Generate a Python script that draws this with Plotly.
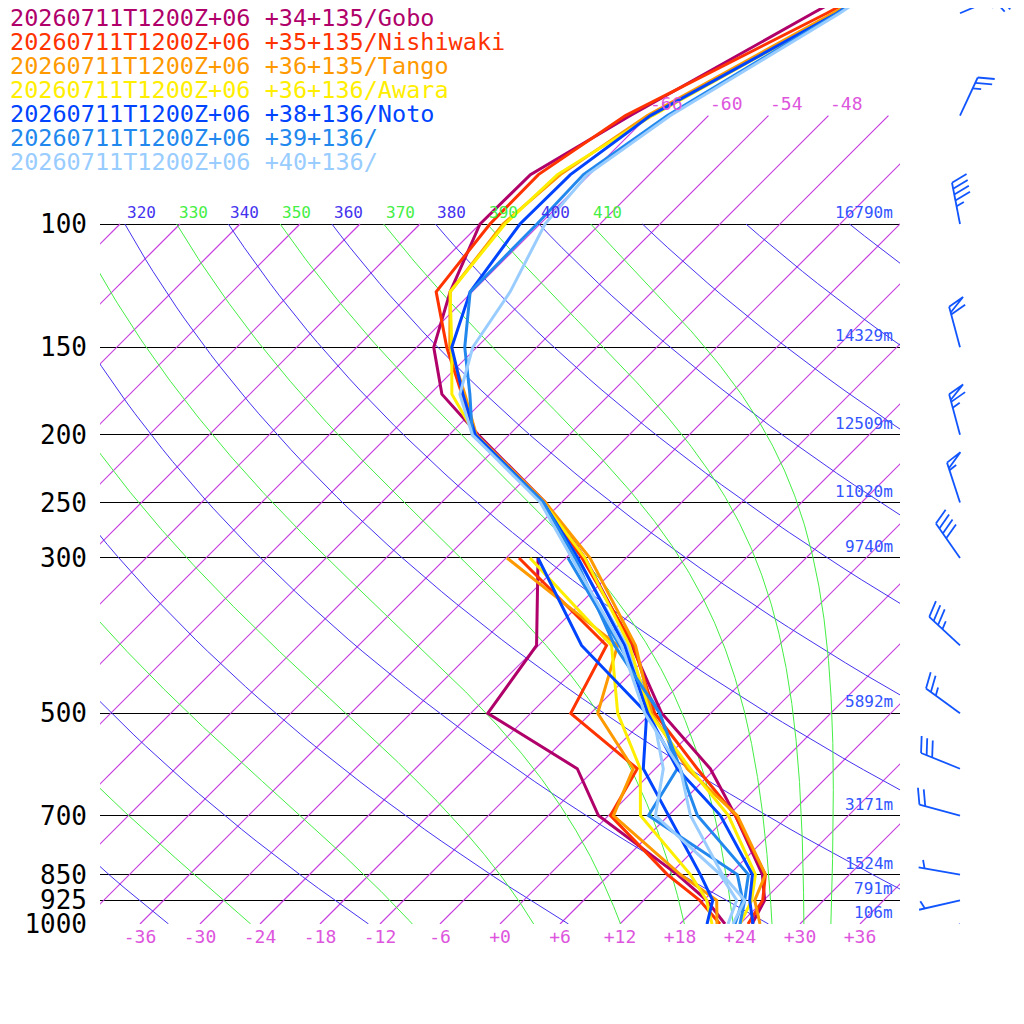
import numpy as np
import plotly.graph_objects as go

# --- sounding data ---
t_levels = [1000, 925, 850, 700, 600, 500, 400, 300, 250, 200, 175, 150, 125, 100, 85, 70, 50, 48]
td_levels = [1000, 925, 850, 700, 600, 500, 400, 300]

names = ["+34+135/Gobo", "+35+135/Nishiwaki", "+36+135/Tango", "+36+136/Awara",
         "+38+136/Noto", "+39+136/", "+40+136/"]
colors = ["#b0006a", "#ff3300", "#ff9900", "#ffee00", "#0044ff", "#2288ee", "#99ccff"]

temp_gobo = [25.2, 24.1, 21.3, 12.7, 5.5, -4.9, -14.7, -28.1, -37.6, -51.1, -58.8, -64.3, -68.2, -72.0, -71.9, -67.8, -59.8, -58.8]
temp_nishiwaki = [24.8, 23.9, 21.6, 12.7, 4.2, -5.6, -14.5, -28.4, -37.8, -51.4, -56.8, -63.0, -69.6, -71.0, -71.1, -68.3, -58.4, -57.3]
temp_tango = [26.0, 23.1, 21.6, 12.9, 3.2, -5.9, -14.3, -27.6, -37.6, -51.3, -56.5, -62.7, -68.2, -69.7, -68.9, -66.1, -57.8, -56.8]
temp_awara = [24.0, 22.8, 20.6, 12.0, 3.5, -6.1, -14.9, -28.1, -37.8, -51.4, -57.8, -62.5, -68.2, -69.5, -69.2, -65.6, -57.4, -56.8]
temp_noto = [25.3, 22.6, 20.3, 11.2, 2.2, -6.3, -15.4, -28.8, -37.8, -51.4, -56.7, -62.5, -66.2, -68.0, -67.9, -65.8, -57.4, -56.8]
temp_39 = [24.0, 22.1, 19.9, 8.9, 2.5, -5.1, -16.4, -29.1, -37.8, -51.7, -56.0, -61.2, -66.2, -66.3, -66.6, -64.1, -57.3, -56.6]
temp_40 = [23.3, 22.1, 17.3, 8.2, 2.5, -6.6, -15.7, -29.4, -38.1, -51.7, -57.0, -60.4, -62.2, -65.5, -66.2, -63.8, -57.1, -56.5]

dew_gobo = [22.5, 18.3, 12.8, -1.0, -7.8, -22.3, -24.2, -32.8]
dew_nishiwaki = [22.0, 17.6, 11.8, 0.2, -1.8, -14.0, -17.2, -34.7]
dew_tango = [21.7, 19.3, 13.1, 0.5, -2.2, -11.3, -16.1, -35.9]
dew_awara = [21.2, 18.3, 14.1, 3.2, -1.5, -9.3, -16.7, -33.6]
dew_noto = [20.7, 18.9, 15.1, 6.0, -1.2, -6.4, -19.7, -32.8]
dew_39 = [23.5, 21.9, 18.8, 4.0, 2.2, -5.1, -15.9, -29.8]
dew_40 = [22.8, 21.3, 17.1, 4.7, 0.8, -5.8, -15.2, -28.9]

temps = [temp_gobo, temp_nishiwaki, temp_tango, temp_awara, temp_noto, temp_39, temp_40]
dews = [dew_gobo, dew_nishiwaki, dew_tango, dew_awara, dew_noto, dew_39, dew_40]

# levels with heights (m)
p_labels = [100, 150, 200, 250, 300, 500, 700, 850, 925, 1000]
heights = ["16790m", "14329m", "12509m", "11020m", "9740m", "5892m", "3171m", "1524m", "791m", "106m"]

# wind (deg, kt)
wind_p = [50, 70, 100, 150, 200, 250, 300, 400, 500, 600, 700, 850, 925, 1000]
wind_dir = [67, 25, 349, 345, 345, 342, 325, 313, 306, 292, 285, 280, 257, 226]
wind_spd = [25, 25, 45, 60, 65, 55, 40, 35, 25, 30, 20, 5, 5, 10]

SKEW = 70.0
FONT = "DejaVu Sans Mono"
W, H = 1008, 1008  # page adds an 8px body margin
P_TOP = 1000 / 10 ** (916 / 700)


def skew_x(t, p):
    return np.asarray(t) + SKEW * np.log10(1000.0 / np.asarray(p, dtype=float))


def py(t):
    # page pixel row -> paper y
    return (H + 8 - t) / H


fig = go.Figure()

# isotherms
for t in range(-108, 40, 6):
    top = 70 if t >= -66 else 100
    pp = np.array([1000.0, top])
    fig.add_trace(go.Scatter(x=skew_x(np.full_like(pp, t), pp), y=pp, mode="lines",
                             line=dict(color="#c83ce0", width=1.2), hoverinfo="skip"))
    if -66 <= t <= -48:
        fig.add_annotation(x=float(skew_x(t, 70)), y=np.log10(70), text=f"{t}", showarrow=False,
                           xanchor="left", yanchor="bottom", font=dict(color="#dd55dd", size=18, family=FONT))

# dry adiabats
p_line = np.logspace(3, 2, 60)
for th in range(240, 521, 20):
    tt = th * (p_line / 1000.0) ** 0.286 - 273.15
    fig.add_trace(go.Scatter(x=skew_x(tt, p_line), y=p_line, mode="lines",
                             line=dict(color="#4433ee", width=1), hoverinfo="skip"))
    x100 = float(skew_x(th * 0.1 ** 0.286 - 273.15, 100))
    if -40 <= x100 and th <= 400:
        fig.add_annotation(x=x100, y=2, text=str(th), showarrow=False, xanchor="left", yanchor="bottom",
                           font=dict(color="#4433ee", size=16, family=FONT))


# moist adiabats (integrated down from 100 hPa)
def moist_lapse(T, p):
    Rd, cp, Lv, eps = 287.04, 1005.7, 2.501e6, 0.622
    es = 6.112 * np.exp(17.67 * (T - 273.15) / (T - 29.65))
    rs = eps * es / (p - es)
    return (Rd * T + Lv * rs) / p / (cp + Lv ** 2 * rs * eps / (Rd * T ** 2))


for th in range(250, 411, 20):
    T = th * 0.1 ** 0.286
    ps = [100.0]
    ts = [T]
    p = 100.0
    while p < 1000:
        dp = 2.0
        T = T + moist_lapse(T, p + dp / 2) * dp
        p += dp
        ps.append(p)
        ts.append(T)
    ps = np.array(ps)
    ts = np.array(ts) - 273.15
    fig.add_trace(go.Scatter(x=skew_x(ts, ps), y=ps, mode="lines",
                             line=dict(color="#44ee44", width=1), hoverinfo="skip"))
    x100 = float(skew_x(ts[0], 100))
    if -40 <= x100 <= 40:
        fig.add_annotation(x=x100, y=2, text=str(th), showarrow=False, xanchor="left", yanchor="bottom",
                           font=dict(color="#44ee44", size=16, family=FONT))

# profiles
for i in range(len(names)):
    fig.add_trace(go.Scatter(x=skew_x(dews[i], td_levels), y=td_levels, mode="lines",
                             line=dict(color=colors[i], width=3), hoverinfo="skip"))
for i in range(len(names)):
    fig.add_trace(go.Scatter(x=skew_x(temps[i], t_levels), y=t_levels, mode="lines",
                             line=dict(color=colors[i], width=3), hoverinfo="skip"))

# height labels
for p, h in zip(p_labels, heights):
    fig.add_annotation(x=39.5, y=np.log10(p), text=h, showarrow=False, xanchor="right", yanchor="bottom",
                       font=dict(color="#3355ff", size=16, family=FONT))

# legend
for i, n in enumerate(names):
    fig.add_annotation(x=0, y=py(2 + 24 * i), xref="paper", yref="paper",
                       text="20260711T1200Z+06 " + n, showarrow=False, xanchor="left", yanchor="top",
                       font=dict(color=colors[i], size=23.5, family=FONT))

# wind barbs (pixel space on second axes)
BX, L, BL, SP = 960.0, 42.0, 17.0, 6.0
bx, by = [], []
for p, d, s in zip(wind_p, wind_dir, wind_spd):
    y0 = 924 - 700 * np.log10(1000.0 / p)
    ux, uy = np.sin(np.radians(d)), np.cos(np.radians(d))
    a = np.radians(-70)
    vx, vy = ux * np.cos(a) - uy * np.sin(a), ux * np.sin(a) + uy * np.cos(a)
    tx, ty = BX + L * ux, y0 - L * uy
    bx += [BX, tx, None]
    by += [y0, ty, None]
    pos = 0.0
    rem = s
    while rem >= 50:
        x1, y1 = tx - pos * ux, ty + pos * uy
        x2, y2 = tx - (pos + SP) * ux, ty + (pos + SP) * uy
        bx += [x1, x1 + BL * vx, x2, None]
        by += [y1, y1 - BL * vy, y2, None]
        pos += SP + 2
        rem -= 50
    while rem >= 10:
        x1, y1 = tx - pos * ux, ty + pos * uy
        bx += [x1, x1 + BL * vx, None]
        by += [y1, y1 - BL * vy, None]
        pos += SP
        rem -= 10
    if rem >= 5:
        if pos == 0:
            pos = SP
        x1, y1 = tx - pos * ux, ty + pos * uy
        bx += [x1, x1 + BL * 0.5 * vx, None]
        by += [y1, y1 - BL * 0.5 * vy, None]
fig.add_trace(go.Scatter(x=bx, y=by, xaxis="x2", yaxis="y2", mode="lines",
                         line=dict(color="#1155ff", width=1.8), hoverinfo="skip"))

fig.update_layout(
    width=W, height=H, showlegend=False,
    paper_bgcolor="white", plot_bgcolor="white",
    margin=dict(l=0, r=0, t=0, b=0, pad=0, autoexpand=False),
    xaxis=dict(domain=[92 / W, 892 / W], range=[-40, 40], showgrid=False, zeroline=False,
               automargin=False,
               tickvals=list(range(-36, 37, 6)),
               ticktext=[("+" if v >= 0 else "") + str(v) for v in range(-36, 37, 6)],
               tickfont=dict(color="#dd55dd", size=18, family=FONT), ticks=""),
    yaxis=dict(domain=[py(924), 1], type="log", range=[3, np.log10(P_TOP)],
               automargin=False,
               tickvals=p_labels, ticktext=[str(p) for p in p_labels],
               showgrid=True, gridcolor="black", gridwidth=1, zeroline=False, ticks="",
               ticklabelstandoff=12,
               tickfont=dict(color="black", size=26, family=FONT)),
    xaxis2=dict(domain=[892 / W, 1], range=[900, 1016], visible=False),
    yaxis2=dict(domain=[py(924), 1], range=[924, 8], visible=False, anchor="x2"),
)

fig.write_html("out.html")
